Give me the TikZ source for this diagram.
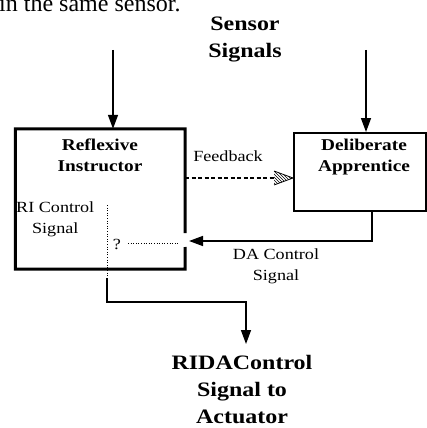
\documentclass[tikz,border=0pt]{standalone}
\usepackage{fontspec}
\setmainfont{Liberation Serif}
\newfontfamily\widefont[FakeStretch=1.17]{Liberation Serif}
\usetikzlibrary{arrows.meta,patterns}
\begin{document}
\begin{tikzpicture}[x=1pt,y=-1pt,
  head/.style={font=\widefont\bfseries\fontsize{20.5}{27}\selectfont, align=center, inner sep=0pt, anchor=north},
  boxlbl/.style={font=\widefont\bfseries\fontsize{16.5}{20.5}\selectfont, align=center, inner sep=0pt, anchor=north},
  lbl/.style={font=\widefont\fontsize{15.5}{21}\selectfont, align=center, inner sep=0pt},
  wire/.style={line width=1.5pt},
  arr/.style={wire,-{Triangle[width=10pt,length=14pt]}},
  dotline/.style={line width=1pt, dash pattern=on 1pt off 1.6pt},
]
\useasboundingbox (0,0) rectangle (427,428);
\fill[white] (0,0) rectangle (427,428);
% cropped text at the very top
\node[anchor=base west, inner sep=0pt, font=\fontsize{24}{28}\selectfont] (top) at (-1,12) {in the same sensor.};

% boxes
\node[minimum width=169.5pt, minimum height=140pt, inner sep=0pt] (ri) at (100.25,199) {};
\draw[line width=3pt] (185,233) -- (ri.north east) -- (ri.north west) -- (ri.south west) -- (ri.south east) -- (185,247);
\node[draw, line width=2pt, minimum width=132pt, minimum height=78pt, inner sep=0pt] (da) at (360,172) {};

% labels
\node[head] (sensor) at (245,17) {Sensor\\Signals};
\node[boxlbl] (ril) at (100,139) {Reflexive\\Instructor};
\node[boxlbl] (dal) at (364,139) {Deliberate\\Apprentice};
\node[lbl, anchor=north] (fbl) at (228,151) {Feedback};
\node[lbl, anchor=north west] (ric) at (16,202) {RI Control\\Signal};
\node[lbl, anchor=north] (dac) at (276,249) {DA Control\\Signal};
\node[lbl] (q) at (117,244) {?};
\node[head] (out) at (242,355) {RIDAControl\\Signal to\\Actuator};

% sensor inputs
\coordinate (s1) at (113,50);
\coordinate (s2) at (366,50);
\draw[arr] (s1) -- (s1 |- ri.north);
\draw[arr] (s2) -- (s2 |- da.north);

% feedback (dashed, hatched head)
\coordinate (fbs) at (185,178);
\coordinate (fbe) at (274,178);
\draw[wire, dash pattern=on 4pt off 2.5pt] (fbs) -- (fbe);
\fill[pattern=north west lines] (274,171) -- (293,178) -- (274,185) -- cycle;
\draw[line width=0.8pt] (274,171) -- (293,178) -- (274,185);

% DA control signal
\coordinate (dcx) at (372,241);
\coordinate (gap) at (189,241);
\draw[arr] (dcx |- da.south) -- (dcx) -- (gap);

% RI control signal (dotted) and ? link
\coordinate (dtop) at (107,205);
\coordinate (dbot) at (107,278);
\draw[dotline] (dtop) -- (dbot);
\coordinate (qa) at (128,243);
\coordinate (qb) at (178,243);
\draw[dotline] (qa) -- (qb);

% output
\coordinate (otip) at (246,344);
\draw[arr] (dbot) -- ++(0,24) -| (otip);
\end{tikzpicture}
\end{document}
